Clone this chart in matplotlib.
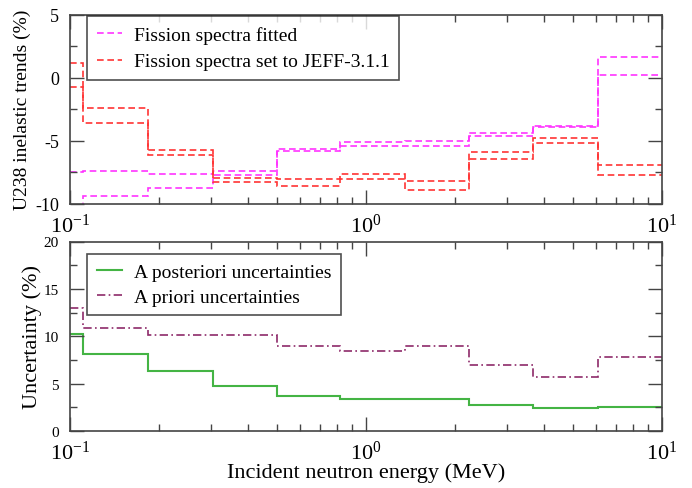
import numpy as np
import matplotlib
matplotlib.use("Agg")
import matplotlib.pyplot as plt
from matplotlib.ticker import LogLocator, MultipleLocator, NullFormatter

plt.rcParams['font.family'] = ['Liberation Serif', 'DejaVu Serif']
plt.rcParams['mathtext.fontset'] = 'custom'
plt.rcParams['mathtext.rm'] = 'Liberation Serif'
plt.rcParams['axes.unicode_minus'] = False

# energy group boundaries (MeV)
edges = [0.1, 0.111, 0.183, 0.303, 0.5, 0.82, 1.35, 2.23, 3.68, 6.07, 10.0]

# inelastic trends (%), two bounds per fit
fitted_hi = [-7.44, -7.36, -7.60, -7.36, -5.65, -5.11, -4.98, -4.35, -3.82, 1.65]
fitted_lo = [-11.0, -9.34, -8.73, -7.68, -5.82, -5.43, -5.43, -4.59, -3.92, 0.25]
jeff_hi = [1.15, -2.42, -5.72, -7.96, -8.02, -7.60, -8.20, -5.90, -4.80, -6.93]
jeff_lo = [-0.75, -3.58, -6.12, -8.23, -8.60, -8.02, -8.89, -6.40, -5.17, -7.68]

# uncertainties (%)
posterior = [10.28, 8.15, 6.32, 4.78, 3.67, 3.37, 3.34, 2.74, 2.42, 2.56]
prior = [12.95, 10.92, 10.18, 10.10, 8.95, 8.46, 8.99, 6.95, 5.69, 7.83]

W, H = 692, 489
fig = plt.figure(figsize=(W / 100, H / 100), dpi=100)
ax1 = fig.add_axes([70 / W, 1 - 205 / H, 592 / W, 189.5 / H])
ax2 = fig.add_axes([70 / W, 1 - 432 / H, 592 / W, 189.5 / H])

frame = '#444444'


def style_axis(ax, ytick_size, xpad):
    ax.set_xscale('log')
    ax.set_xlim(0.1, 10)
    ax.xaxis.set_major_locator(LogLocator(base=10))
    ax.xaxis.set_minor_locator(LogLocator(base=10, subs=np.arange(2, 10)))
    ax.xaxis.set_minor_formatter(NullFormatter())
    ax.tick_params(which='both', direction='in', top=True, right=True,
                   color=frame, width=1.0)
    ax.tick_params(which='major', length=10)
    ax.tick_params(which='minor', length=5)
    ax.tick_params(axis='x', labelsize=16, pad=xpad)
    ax.tick_params(axis='y', labelsize=ytick_size, pad=8)
    for s in ax.spines.values():
        s.set_color(frame)
        s.set_linewidth(1.2)


def add_legend(ax, top, spacing):
    leg = ax.legend(loc='upper left', bbox_to_anchor=(0.029, top), fontsize=14,
                    frameon=True, fancybox=False, handlelength=1.3,
                    handletextpad=0.6, borderpad=0.5, labelspacing=spacing,
                    borderaxespad=0)
    leg.get_frame().set_edgecolor('#222222')
    leg.get_frame().set_linewidth(1.2)
    return leg


style_axis(ax1, 13, 7)
ax1.set_ylim(-10, 5)
ax1.yaxis.set_major_locator(MultipleLocator(5))
ax1.yaxis.set_minor_locator(MultipleLocator(2.5))

dash = (0, (4, 2.2))
for vals, col, lab in [(fitted_hi, '#ff33ff', 'Fission spectra fitted'),
                       (fitted_lo, '#ff33ff', None),
                       (jeff_hi, '#ff3333', 'Fission spectra set to JEFF-3.1.1'),
                       (jeff_lo, '#ff3333', None)]:
    ax1.stairs(vals, edges, baseline=None, color=col, lw=1.2,
               linestyle=dash, label=lab)

ax1.set_ylabel('U238 inelastic trends (%)', fontsize=14, labelpad=3)
add_legend(ax1, 0.99, 0.45)

style_axis(ax2, 11, 7)
ax2.set_ylim(0, 20)
ax2.yaxis.set_major_locator(MultipleLocator(5))
ax2.yaxis.set_minor_locator(MultipleLocator(2.5))

ax2.stairs(posterior, edges, baseline=None, color='#44b444', lw=1.5,
           label='A posteriori uncertainties')
ax2.stairs(prior, edges, baseline=None, color='#8e2a6a', lw=1.2,
           linestyle=(0, (5, 2, 1, 2)), label='A priori uncertainties')

ax2.set_ylabel('Uncertainty (%)', fontsize=16, labelpad=1)
ax2.set_xlabel('Incident neutron energy (MeV)', fontsize=16, labelpad=-1)
add_legend(ax2, 0.935, 0.35)

fig.savefig('out.png', dpi=100, facecolor='white')
